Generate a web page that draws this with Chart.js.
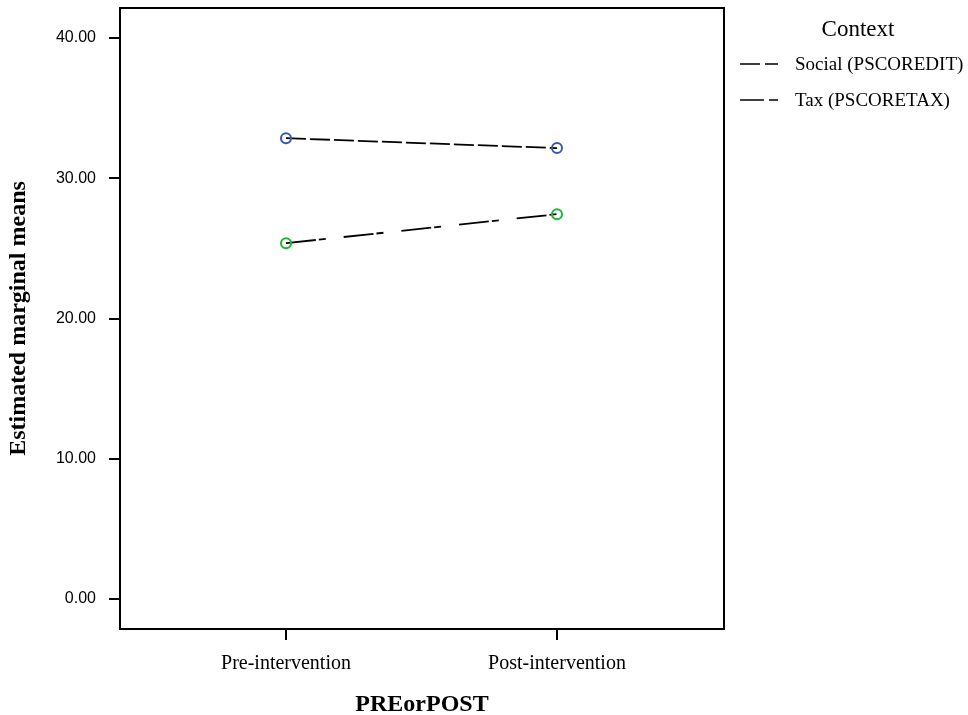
<!DOCTYPE html>
<html>
<head>
<meta charset="utf-8">
<script src="https://cdn.jsdelivr.net/npm/chart.js@4/dist/chart.umd.min.js"></script>
<style>
  html, body { margin:0; padding:0; background:#fff; }
  #wrap { position:relative; width:968px; height:715px; }
  #c { position:absolute; left:0; top:0; }
  .lg { position:absolute; font-family:"Liberation Serif","Times New Roman",serif; color:#000; white-space:nowrap; line-height:1.15; }
</style>
</head>
<body>
<div id="wrap">
  <canvas id="c" width="968" height="715"></canvas>
  <div class="lg" id="lgTitle" style="left:778px; top:16px; width:160px; text-align:center; font-size:23px;">Context</div>
  <svg style="position:absolute; left:738px; top:56px;" width="44" height="54">
    <line x1="2" y1="8" x2="40" y2="8" stroke="#000" stroke-width="1.7" stroke-dasharray="20 5 13 0"/>
    <line x1="2" y1="44" x2="40" y2="44" stroke="#000" stroke-width="1.7" stroke-dasharray="24 5 8 0"/>
  </svg>
  <div class="lg" id="lg1" style="left:795px; top:53px; font-size:19px;">Social (PSCOREDIT)</div>
  <div class="lg" id="lg2" style="left:795px; top:89px; font-size:19px;">Tax (PSCORETAX)</div>
</div>
<script>
const categories = ["Pre-intervention", "Post-intervention"];
const socialValues = [32.86, 32.15];
const taxValues = [25.37, 27.44];
const yTickValues = [0, 10, 20, 30, 40];
const seriesNames = ["Social (PSCOREDIT)", "Tax (PSCORETAX)"];

const framePlugin = {
  id: 'frame',
  afterDraw(chart) {
    const {ctx, chartArea: a} = chart;
    ctx.save();
    ctx.strokeStyle = '#000';
    ctx.lineWidth = 2;
    ctx.strokeRect(a.left, a.top, a.right - a.left, a.bottom - a.top);
    ctx.restore();
  }
};

new Chart(document.getElementById('c'), {
  type: 'line',
  data: {
    datasets: [
      {
        label: seriesNames[0],
        data: socialValues.map((v, i) => ({x: i + 1, y: v})),
        borderColor: '#000',
        borderWidth: 1.8,
        borderDash: [20, 4],
        pointRadius: 5,
        pointBorderWidth: 2,
        pointBorderColor: '#3458b0',
        pointBackgroundColor: 'rgba(255,255,255,0)',
        fill: false,
        tension: 0
      },
      {
        label: seriesNames[1],
        data: taxValues.map((v, i) => ({x: i + 1, y: v})),
        borderColor: '#000',
        borderWidth: 1.8,
        borderDash: [30, 3, 7, 18],
        pointRadius: 5,
        pointBorderWidth: 2,
        pointBorderColor: '#1cb53a',
        pointBackgroundColor: 'rgba(255,255,255,0)',
        fill: false,
        tension: 0
      }
    ]
  },
  options: {
    responsive: false,
    animation: false,
    layout: { padding: { left: 0, top: 8, right: 244, bottom: 0 } },
    plugins: { legend: { display: false }, tooltip: { enabled: false } },
    scales: {
      x: {
        type: 'linear',
        min: 1 - 166 / 271,
        max: 2 + 167 / 271,
        afterBuildTicks(scale) { scale.ticks = categories.map((c, i) => ({value: i + 1})); },
        afterFit(scale) { scale.height = 86; scale.paddingLeft = 0; scale.paddingRight = 0; },
        ticks: {
          callback: (v) => categories[Math.round(v) - 1],
          font: { family: 'Liberation Serif', size: 20 },
          color: '#000',
          padding: 12,
          maxRotation: 0
        },
        grid: { drawOnChartArea: false, drawTicks: true, tickLength: 11, color: '#000', lineWidth: 2 },
        border: { display: true, color: '#000', width: 2 },
        title: {
          display: true,
          text: 'PREorPOST',
          font: { family: 'Liberation Serif', size: 24, weight: 'bold' },
          color: '#000',
          padding: { top: 0, bottom: -4 }
        }
      },
      y: {
        min: -2.14,
        max: 42.14,
        afterBuildTicks(scale) { scale.ticks = yTickValues.map(v => ({value: v})); },
        afterFit(scale) { scale.width = 120; scale.paddingTop = 0; scale.paddingBottom = 0; },
        ticks: {
          callback: (v) => v.toFixed(2),
          font: { family: 'Liberation Sans', size: 16 },
          color: '#000',
          padding: 13
        },
        grid: { drawOnChartArea: false, drawTicks: true, tickLength: 11, color: '#000', lineWidth: 2 },
        border: { display: true, color: '#000', width: 2 },
        title: {
          display: true,
          text: 'Estimated marginal means',
          font: { family: 'Liberation Serif', size: 24, weight: 'bold' },
          color: '#000',
          padding: { top: 4, bottom: 0 }
        }
      }
    }
  },
  plugins: [framePlugin]
});
</script>
</body>
</html>
